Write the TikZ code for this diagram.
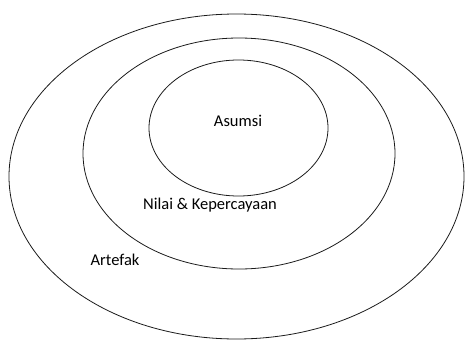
\documentclass[tikz,border=0pt]{standalone}
\usepackage{fontspec}
\setmainfont{Carlito}
\usepackage{tikz}

\begin{document}
\begin{tikzpicture}[x=1pt,y=-1pt]
\definecolor{ringLine}{HTML}{1A1A1A}
\useasboundingbox (0,0) rectangle (465,340);
\draw[ringLine,line width=0.8pt] (236.5,176.5) ellipse [x radius=227.5,y radius=162.5];
\draw[ringLine,line width=0.8pt] (239,153.5) ellipse [x radius=156,y radius=115.5];
\draw[ringLine,line width=0.8pt] (238.5,128) ellipse [x radius=89.5,y radius=68];
\node[font=\fontsize{16.5}{19}\selectfont] (asumsi) at (238,121) {Asumsi};
\node[font=\fontsize{16.5}{19}\selectfont] (nilai) at (210,205) {Nilai \& Kepercayaan};
\node[font=\fontsize{16.5}{19}\selectfont] (artefak) at (115,260) {Artefak};
\end{tikzpicture}
\end{document}
